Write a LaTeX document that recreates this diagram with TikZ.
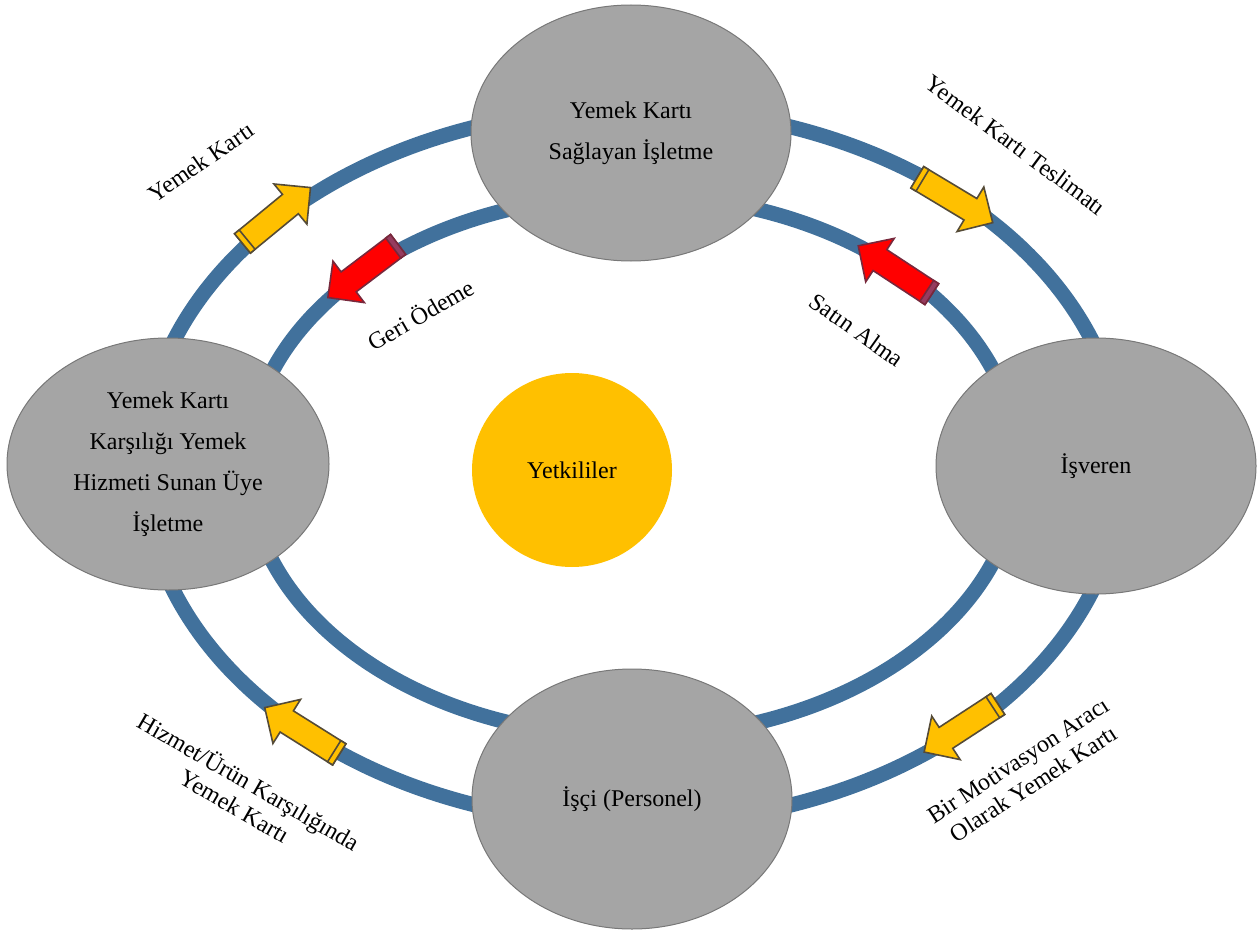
\documentclass[tikz,border=0pt]{standalone}
\usepackage{fontspec}
\setmainfont{Liberation Serif}
\definecolor{ringblue}{RGB}{65, 113, 156}
\definecolor{cardgray}{RGB}{165, 165, 165}
\definecolor{edgegray}{RGB}{120, 120, 120}
\definecolor{gold1}{RGB}{255, 192, 0}
\definecolor{arrowred}{RGB}{255, 0, 0}
\definecolor{yellowedge}{RGB}{85, 75, 55}
\definecolor{rededge}{RGB}{120, 40, 60}
\definecolor{redtail}{RGB}{150, 60, 95}
\usetikzlibrary{shapes.geometric}

\begin{document}
\begin{tikzpicture}[x=0.5pt, y=-0.5pt,
  party/.style={ellipse, draw=edgegray, line width=0.5pt, fill=cardgray, inner sep=0pt,
                minimum width=160pt, minimum height=128pt, align=center,
                font=\fontsize{12}{20.5}\selectfont},
  ring/.style={line width=7.5pt, ringblue},
  flowtext/.style={font=\fontsize{12}{14}\selectfont, align=center},
  pics/blockarr/.style args={#1/#2/#3}{code={
    \path[fill=#1, draw=#2, line width=0.8pt]
      (-44,-12.5) -- (18,-12.5) -- (18,-26) -- (44,0) -- (18,26) -- (18,12.5) -- (-44,12.5) -- cycle;
    \path[fill=#3, draw=#2, line width=0.8pt] (-44,-12.5) rectangle (-38,12.5);
  }},
]
\useasboundingbox (0,0) rectangle (1258,931);

% Rings
\coordinate (mid) at (633,466);
\draw[ring] (mid) ellipse [x radius=490, y radius=358];
\draw[ring] (mid) ellipse [x radius=385, y radius=271];

% Flow arrows
\pic[rotate=39.4] at (276.5,215.5) {blockarr=gold1/yellowedge/gold1};
\pic[rotate=-31] at (955,200) {blockarr=gold1/yellowedge/gold1};
\pic[rotate=213.1] at (961,728) {blockarr=gold1/yellowedge/gold1};
\pic[rotate=147.9] at (302,731) {blockarr=gold1/yellowedge/gold1};
\pic[rotate=217.1] at (363,271) {blockarr=arrowred/rededge/redtail};
\pic[rotate=146.7] at (895,270) {blockarr=arrowred/rededge/redtail};

% Parties
\node[party] (provider) at (631,133) {Yemek Kartı\\Sağlayan İşletme};
\node[party, minimum height=130pt] (worker) at (632,799) {İşçi (Personel)};
\node[party, minimum width=161pt, minimum height=126pt] (member) at (168,464)
  {Yemek Kartı\\Karşılığı Yemek\\Hizmeti Sunan Üye\\İşletme};
\node[party] (employer) at (1096,466) {İşveren};
\node[ellipse, fill=gold1, inner sep=0pt, minimum width=100pt, minimum height=97pt,
      font=\fontsize{12}{14}\selectfont] (auth) at (572,470) {Yetkililer};

% Labels
\node[flowtext, rotate=34.5] (lcard) at (201,162) {Yemek Kartı};
\node[flowtext, rotate=-36.6] (ldeliver) at (1016,145) {Yemek Kartı Teslimatı};
\node[flowtext, rotate=30] (lrefund) at (420,314) {Geri Ödeme};
\node[flowtext, rotate=-35.4] (lbuy) at (857,330) {Satın Alma};
\node[flowtext, rotate=33] (lmotive) at (1026,772) {Bir Motivasyon Aracı\\Olarak Yemek Kartı};
\node[flowtext, rotate=-30] (lservice) at (242,793) {Hizmet/Ürün Karşılığında\\Yemek Kartı};
\end{tikzpicture}
\end{document}
